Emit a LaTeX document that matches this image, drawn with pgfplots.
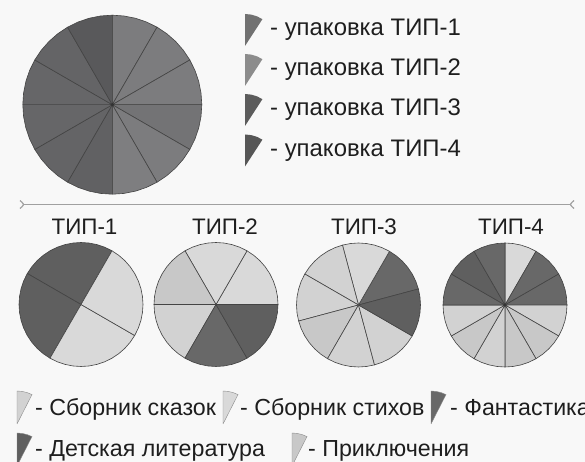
\documentclass[border=0pt]{standalone}
\usepackage{pgfplots}
\pgfplotsset{compat=1.18}
\usepackage{fontspec}
\setmainfont{Liberation Sans}

\definecolor{bg}{HTML}{F8F8F8}
\definecolor{edge}{HTML}{444444}
\definecolor{sep}{HTML}{A0A0A0}
\definecolor{txt}{HTML}{1E1E1E}
% big pie shades
\definecolor{gA}{HTML}{7C7C7E}
\definecolor{gB}{HTML}{737375}
\definecolor{gC}{HTML}{7E7E80}
\definecolor{gD}{HTML}{616163}
\definecolor{gE}{HTML}{646466}
\definecolor{gF}{HTML}{666668}
\definecolor{gG}{HTML}{59595B}
% legend of packaging types
\definecolor{t1}{HTML}{717171}
\definecolor{t2}{HTML}{8C8C8C}
\definecolor{t3}{HTML}{5C5C5C}
\definecolor{t4}{HTML}{565656}
% genres
\definecolor{skaz}{HTML}{D2D2D2}
\definecolor{stih}{HTML}{D9D9D9}
\definecolor{fant}{HTML}{686868}
\definecolor{det}{HTML}{5F5F5F}
\definecolor{prik}{HTML}{C8C8C8}

\pgfplotsset{
  pie/.style={hide axis, scale only axis, width=#1, height=#1,
    xmin=-1, xmax=1, ymin=-1, ymax=1, anchor=center, clip=false},
  sector/.style={data cs=polar, draw=edge, line width=0.6bp, fill=#1,
    line join=round},
}
\newcommand{\sect}[2]{\addplot[sector=#1] coordinates {(0,0) #2 (0,0)};}

\begin{document}
\begin{tikzpicture}
\fill[bg] (0,0) rectangle (585bp,462bp);

% frame in pixel units: texts and the separator
\begin{axis}[at={(0,0)}, anchor=south west, scale only axis,
  width=585bp, height=462bp, xmin=0, xmax=585, ymin=0, ymax=462,
  y dir=reverse, hide axis, clip=false]
\addplot[sep, line width=1.6bp] coordinates {(23,204.5) (571,204.5)};
\addplot[sep, line width=1.2bp, smooth] coordinates {(20,200.5) (23.5,204.5) (20,208.5)};
\addplot[sep, line width=1.2bp, smooth] coordinates {(574,200.5) (570.5,204.5) (574,208.5)};

\begin{scope}[every node/.style={anchor=base west, inner sep=0, text=txt,
    font=\fontsize{24}{28}\selectfont}]
\node at (axis cs:270,36) {- упаковка ТИП-1};
\node at (axis cs:270,75.5) {- упаковка ТИП-2};
\node at (axis cs:270,115.5) {- упаковка ТИП-3};
\node at (axis cs:270,156) {- упаковка ТИП-4};
\end{scope}

\begin{scope}[every node/.style={anchor=base, inner sep=0, text=txt,
    font=\fontsize{22.5}{26}\selectfont}]
\node at (axis cs:84.5,234) {ТИП-1};
\node at (axis cs:225,234) {ТИП-2};
\node at (axis cs:364,234) {ТИП-3};
\node at (axis cs:511,234) {ТИП-4};
\end{scope}

\begin{scope}[every node/.style={anchor=base west, inner sep=0, text=txt,
    font=\fontsize{23.3}{27}\selectfont}]
\node at (axis cs:35,415) {- Сборник сказок};
\node at (axis cs:240,415) {- Сборник стихов};
\node at (axis cs:450,415) {- Фантастика};
\node at (axis cs:35,456) {- Детская литература};
\node at (axis cs:308,456) {- Приключения};
\end{scope}
\end{axis}

% large pie: 12 parts
\begin{axis}[pie=179bp, at={(112.3bp,357.3bp)}]
\sect{gA}{(60,1) (67.5,1) (75,1) (82.5,1) (90,1)}
\sect{gA}{(30,1) (37.5,1) (45,1) (52.5,1) (60,1)}
\sect{gA}{(0,1) (7.5,1) (15,1) (22.5,1) (30,1)}
\sect{gB}{(-30,1) (-22.5,1) (-15,1) (-7.5,1) (0,1)}
\sect{gA}{(-60,1) (-52.5,1) (-45,1) (-37.5,1) (-30,1)}
\sect{gC}{(-90,1) (-82.5,1) (-75,1) (-67.5,1) (-60,1)}
\sect{gD}{(-120,1) (-112.5,1) (-105,1) (-97.5,1) (-90,1)}
\sect{gE}{(-150,1) (-142.5,1) (-135,1) (-127.5,1) (-120,1)}
\sect{gF}{(-180,1) (-172.5,1) (-165,1) (-157.5,1) (-150,1)}
\sect{gF}{(150,1) (157.5,1) (165,1) (172.5,1) (180,1)}
\sect{gE}{(120,1) (127.5,1) (135,1) (142.5,1) (150,1)}
\sect{gG}{(90,1) (97.5,1) (105,1) (112.5,1) (120,1)}
\addplot[only marks, mark=*, mark size=1.4bp, color=black!80] coordinates {(0,0)};
\end{axis}

% TIP-1: 4 parts
\begin{axis}[pie=124bp, at={(81bp,157.5bp)}]
\sect{det}{(60,1) (67.5,1) (75,1) (82.5,1) (90,1) (97.5,1) (105,1) (112.5,1) (120,1) (127.5,1) (135,1) (142.5,1) (150,1)}
\sect{det}{(150,1) (157.5,1) (165,1) (172.5,1) (180,1) (187.5,1) (195,1) (202.5,1) (210,1) (217.5,1) (225,1) (232.5,1) (240,1)}
\sect{stih}{(240,1) (247.5,1) (255,1) (262.5,1) (270,1) (277.5,1) (285,1) (292.5,1) (300,1) (307.5,1) (315,1) (322.5,1) (330,1)}
\sect{stih}{(-30,1) (-22.5,1) (-15,1) (-7.5,1) (0,1) (7.5,1) (15,1) (22.5,1) (30,1) (37.5,1) (45,1) (52.5,1) (60,1)}
\end{axis}

% TIP-2: 6 parts
\begin{axis}[pie=124bp, at={(216bp,157.5bp)}]
\sect{stih}{(0,1) (7.5,1) (15,1) (22.5,1) (30,1) (37.5,1) (45,1) (52.5,1) (60,1)}
\sect{stih}{(60,1) (67.5,1) (75,1) (82.5,1) (90,1) (97.5,1) (105,1) (112.5,1) (120,1)}
\sect{prik}{(120,1) (127.5,1) (135,1) (142.5,1) (150,1) (157.5,1) (165,1) (172.5,1) (180,1)}
\sect{skaz}{(180,1) (187.5,1) (195,1) (202.5,1) (210,1) (217.5,1) (225,1) (232.5,1) (240,1)}
\sect{fant}{(240,1) (247.5,1) (255,1) (262.5,1) (270,1) (277.5,1) (285,1) (292.5,1) (300,1)}
\sect{det}{(300,1) (307.5,1) (315,1) (322.5,1) (330,1) (337.5,1) (345,1) (352.5,1) (360,1)}
\end{axis}

% TIP-3: 8 parts
\begin{axis}[pie=124bp, at={(358.5bp,157bp)}]
\sect{fant}{(15,1) (22.5,1) (30,1) (37.5,1) (45,1) (52.5,1) (60,1)}
\sect{stih}{(60,1) (67.5,1) (75,1) (82.5,1) (90,1) (97.5,1) (105,1)}
\sect{skaz}{(105,1) (112.5,1) (120,1) (127.5,1) (135,1) (142.5,1) (150,1)}
\sect{skaz}{(150,1) (157.5,1) (165,1) (172.5,1) (180,1) (187.5,1) (195,1)}
\sect{prik}{(195,1) (202.5,1) (210,1) (217.5,1) (225,1) (232.5,1) (240,1)}
\sect{skaz}{(240,1) (247.5,1) (255,1) (262.5,1) (270,1) (277.5,1) (285,1)}
\sect{skaz}{(285,1) (292.5,1) (300,1) (307.5,1) (315,1) (322.5,1) (330,1)}
\sect{det}{(330,1) (337.5,1) (345,1) (352.5,1) (360,1) (367.5,1) (375,1)}
\end{axis}

% TIP-4: 12 parts
\begin{axis}[pie=124bp, at={(505bp,157bp)}]
\sect{stih}{(60,1) (67.5,1) (75,1) (82.5,1) (90,1)}
\sect{fant}{(30,1) (37.5,1) (45,1) (52.5,1) (60,1)}
\sect{fant}{(0,1) (7.5,1) (15,1) (22.5,1) (30,1)}
\sect{skaz}{(-30,1) (-22.5,1) (-15,1) (-7.5,1) (0,1)}
\sect{prik}{(-60,1) (-52.5,1) (-45,1) (-37.5,1) (-30,1)}
\sect{prik}{(-90,1) (-82.5,1) (-75,1) (-67.5,1) (-60,1)}
\sect{skaz}{(-120,1) (-112.5,1) (-105,1) (-97.5,1) (-90,1)}
\sect{prik}{(-150,1) (-142.5,1) (-135,1) (-127.5,1) (-120,1)}
\sect{skaz}{(-180,1) (-172.5,1) (-165,1) (-157.5,1) (-150,1)}
\sect{fant}{(150,1) (157.5,1) (165,1) (172.5,1) (180,1)}
\sect{det}{(120,1) (127.5,1) (135,1) (142.5,1) (150,1)}
\sect{fant}{(90,1) (97.5,1) (105,1) (112.5,1) (120,1)}
\addplot[only marks, mark=*, mark size=1.4bp, color=black!80] coordinates {(0,0)};
\end{axis}

% legend wedges, packaging types
\pgfplotsset{wedge/.style={pie=64bp},
  wsec/.style={data cs=polar, draw=none, fill=#1}}
\begin{axis}[wedge, at={(245bp,416bp)}]
\addplot[wsec=t1] coordinates {(0,0) (57,1) (68,1) (79,1) (90,1) (0,0)};
\end{axis}
\begin{axis}[wedge, at={(245bp,376bp)}]
\addplot[wsec=t2] coordinates {(0,0) (57,1) (68,1) (79,1) (90,1) (0,0)};
\end{axis}
\begin{axis}[wedge, at={(245bp,336bp)}]
\addplot[wsec=t3] coordinates {(0,0) (57,1) (68,1) (79,1) (90,1) (0,0)};
\end{axis}
\begin{axis}[wedge, at={(245bp,295.5bp)}]
\addplot[wsec=t4] coordinates {(0,0) (57,1) (68,1) (79,1) (90,1) (0,0)};
\end{axis}

% legend wedges, genres
\pgfplotsset{gwedge/.style={pie=66bp},
  gsec/.style={data cs=polar, draw=black!45, line width=0.4bp, fill=#1}}
\begin{axis}[gwedge, at={(17bp,38bp)}]
\addplot[gsec=skaz] coordinates {(0,0) (63,1) (72,1) (81,1) (90,1) (0,0)};
\end{axis}
\begin{axis}[gwedge, at={(223bp,38bp)}]
\addplot[gsec=stih] coordinates {(0,0) (63,1) (72,1) (81,1) (90,1) (0,0)};
\end{axis}
\begin{axis}[gwedge, at={(431bp,38bp)}]
\addplot[gsec=fant] coordinates {(0,0) (63,1) (72,1) (81,1) (90,1) (0,0)};
\end{axis}
\begin{axis}[gwedge, at={(17bp,-4bp)}]
\addplot[gsec=det] coordinates {(0,0) (63,1) (72,1) (81,1) (90,1) (0,0)};
\end{axis}
\begin{axis}[gwedge, at={(292bp,-4bp)}]
\addplot[gsec=prik] coordinates {(0,0) (63,1) (72,1) (81,1) (90,1) (0,0)};
\end{axis}

\pgfresetboundingbox
\path (0,0) rectangle (585bp,462bp);
\end{tikzpicture}
\end{document}
